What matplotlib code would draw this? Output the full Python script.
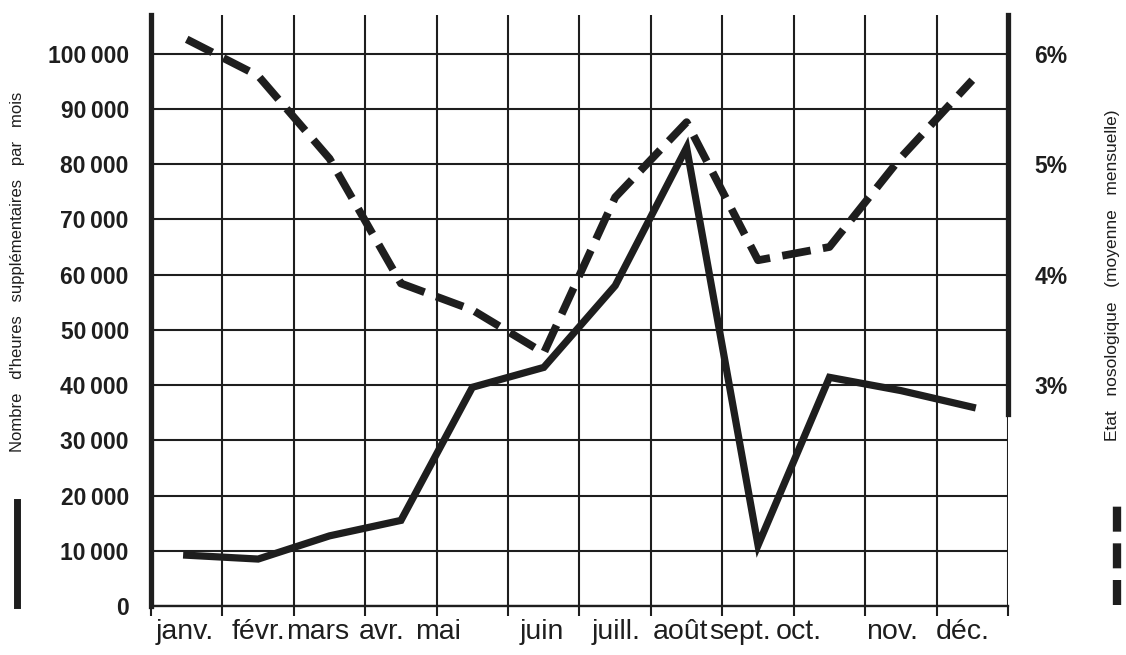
import matplotlib.pyplot as plt
from matplotlib.lines import Line2D
import numpy as np

plt.rcParams['font.family'] = ['Liberation Sans', 'DejaVu Sans']

months = ["janv.", "févr.", "mars", "avr.", "mai", "juin",
          "juill.", "août", "sept.", "oct.", "nov.", "déc."]
# overtime hours per month (left axis)
hours = [9200, 8500, 12700, 15500, 39600, 43200, 58000, 83000, 11000, 41400, 39000, 36000]
# sickness rate, monthly mean in % (right axis)
sick_rate = [6.13, 5.80, 5.05, 3.92, 3.68, 3.29, 4.70, 5.38, 4.13, 4.25, 5.06, 5.76]

hour_ticks = list(range(0, 100001, 10000))
rate_ticks = [3, 4, 5, 6]

ink = '#1e1e1e'

fig = plt.figure(figsize=(11.26, 6.55), dpi=100)
ax = fig.add_axes([0.1341, 0.0748, 0.7611, 0.9023])
ax2 = ax.twinx()

x = np.arange(len(months)) + 0.5

ax.plot(x, hours, color=ink, lw=5.2, solid_joinstyle='miter', zorder=3)
ax2.plot(x, sick_rate, color=ink, lw=5.6, linestyle=(0, (3.7, 1.6)),
         dash_capstyle='butt', zorder=3)

# axes / grid
ax.set_xlim(0, 12)
ax.set_ylim(0, 107000)
ax2.set_ylim(1, 1 + 107000 / 20000)

ax.set_xticks(range(13))
ax.set_xticklabels([])
# month labels sit where they were typeset, slightly off the cell centres
label_pos = [0.47, 1.51, 2.34, 3.23, 4.02, 5.47, 6.51, 7.41, 8.25, 9.07, 10.38, 11.36]
ax.set_xticks(label_pos, minor=True)
ax.set_xticklabels(months, minor=True, fontsize=20.5)
ax.tick_params(axis='x', which='minor', length=0, pad=9, colors=ink)
ax.tick_params(axis='x', which='major', length=7, width=1.5, direction='out', color=ink)

ax.set_yticks(hour_ticks)
ax.set_yticklabels([f"{v:,}".replace(',', '\u2009') for v in hour_ticks],
                   fontsize=16.5, fontweight='bold')
ax.tick_params(axis='y', length=0, pad=16, colors=ink)

ax.grid(True, which='major', color=ink, lw=1.5)
ax.set_axisbelow(True)

for s in ['top', 'right']:
    ax.spines[s].set_visible(False)
ax.spines['left'].set_linewidth(3.8)
ax.spines['left'].set_color(ink)
ax.spines['bottom'].set_linewidth(1.7)
ax.spines['bottom'].set_color(ink)

ax2.set_yticks(rate_ticks)
ax2.set_yticklabels([f"{v}%" for v in rate_ticks], fontsize=16.5, fontweight='bold')
ax2.tick_params(axis='y', length=0, pad=19, colors=ink)
for s in ['top', 'left', 'bottom']:
    ax2.spines[s].set_visible(False)
ax2.spines['right'].set_linewidth(3.8)
ax2.spines['right'].set_color(ink)
ax2.spines['right'].set_bounds(2.74, 1 + 107000 / 20000)

# side titles
fig.text(0.0151, 0.585, "Nombre   d'heures   supplémentaires   par   mois",
         rotation=90, ha='center', va='center', fontsize=12, color=ink)
fig.text(0.9876, 0.58, "Etat   nosologique   (moyenne   mensuelle)",
         rotation=90, ha='center', va='center', fontsize=12.5, color=ink)

# legend bars under the side titles
fig.add_artist(Line2D([0.0151, 0.0151], [0.077, 0.233], color=ink, lw=5,
                      transform=fig.transFigure))
fig.add_artist(Line2D([0.992, 0.992], [0.077, 0.233], color=ink, lw=6,
                      linestyle=(0, (3.0, 1.4)), transform=fig.transFigure))

fig.savefig('out.png', dpi=100)
